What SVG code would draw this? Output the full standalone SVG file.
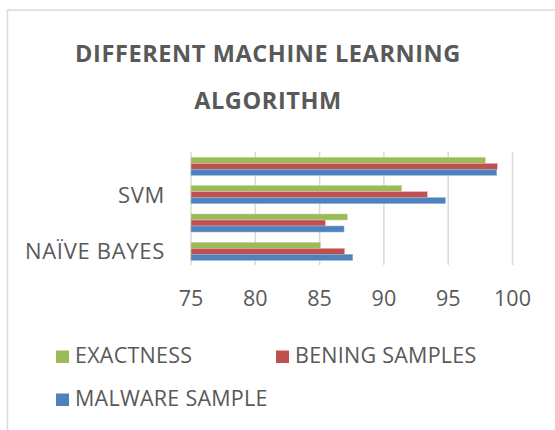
<svg xmlns="http://www.w3.org/2000/svg" width="555" height="430" viewBox="0 0 555 430">
  <style>
    .lbl { font-family: "Open Sans", "Noto Sans", "Liberation Sans", sans-serif; fill: #595959; }
    .title { font-size: 23.5px; font-weight: bold; text-anchor: middle; letter-spacing: 0.6px; }
    .cat { font-size: 22px; text-anchor: end; letter-spacing: 0.7px; }
    .tick { font-size: 21.5px; text-anchor: middle; }
    .leg { font-size: 21.5px; letter-spacing: 0.25px; }
    .grid { stroke: #d9d9d9; stroke-width: 1.5; }
    .g { fill: #9bbb59; stroke: #c3d69b; stroke-width: 0.6; }
    .r { fill: #c0504d; stroke: #e6b9b8; stroke-width: 0.6; }
    .b { fill: #4f81bd; stroke: #95b3d7; stroke-width: 0.6; }
  </style>

  <rect x="0" y="0" width="555" height="430" fill="#ffffff"/>
  <!-- chart frame (runs past the right and bottom edges) -->
  <rect x="7.5" y="10" width="560" height="440" fill="none" stroke="#d9d9d9" stroke-width="1.5"/>

  <!-- title -->
  <g id="title" class="lbl">
    <text class="lbl title" x="268" y="62">DIFFERENT MACHINE LEARNING</text>
    <text class="lbl title" x="268" y="108.5">ALGORITHM</text>
  </g>

  <!-- vertical gridlines at 75..100 -->
  <g id="gridlines">
    <line class="grid" x1="191" y1="152" x2="191" y2="265"/>
    <line class="grid" x1="255.3" y1="152" x2="255.3" y2="265"/>
    <line class="grid" x1="319.6" y1="152" x2="319.6" y2="265"/>
    <line class="grid" x1="383.9" y1="152" x2="383.9" y2="265"/>
    <line class="grid" x1="448.2" y1="152" x2="448.2" y2="265"/>
    <line class="grid" x1="512.5" y1="152" x2="512.5" y2="265"/>
  </g>

  <!-- bars: green = exactness, red = benign samples, blue = malware sample -->
  <g id="bars">
    <rect class="g" x="191" y="157.3" width="294.3" height="6"/>
    <rect class="r" x="191" y="163.3" width="306.3" height="6"/>
    <rect class="b" x="191" y="169.3" width="305.7" height="6"/>

    <rect class="g" x="191" y="185.6" width="210.7" height="6"/>
    <rect class="r" x="191" y="191.6" width="236.3" height="6"/>
    <rect class="b" x="191" y="197.6" width="254.3" height="6"/>

    <rect class="g" x="191" y="214" width="156.3" height="6"/>
    <rect class="r" x="191" y="220" width="134.3" height="6"/>
    <rect class="b" x="191" y="226" width="153" height="6"/>

    <rect class="g" x="191" y="242.3" width="129.3" height="6"/>
    <rect class="r" x="191" y="248.3" width="153.7" height="6"/>
    <rect class="b" x="191" y="254.3" width="161.7" height="6"/>
  </g>

  <!-- category axis labels -->
  <g id="categories">
    <text class="lbl cat" x="165" y="202.5">SVM</text>
    <text class="lbl cat" x="165" y="258.5">NAÏVE BAYES</text>
  </g>

  <!-- value axis labels -->
  <g id="values">
    <text class="lbl tick" x="191" y="305.5">75</text>
    <text class="lbl tick" x="255.3" y="305.5">80</text>
    <text class="lbl tick" x="319.6" y="305.5">85</text>
    <text class="lbl tick" x="383.9" y="305.5">90</text>
    <text class="lbl tick" x="448.2" y="305.5">95</text>
    <text class="lbl tick" x="512.5" y="305.5">100</text>
  </g>

  <!-- legend -->
  <g id="legend-exactness">
    <rect x="56" y="350.5" width="13" height="12.5" fill="#9bbb59"/>
    <text class="lbl leg" x="75" y="362.5">EXACTNESS</text>
  </g>
  <g id="legend-bening">
    <rect x="276" y="350.5" width="13" height="12.5" fill="#c0504d"/>
    <text class="lbl leg" x="295" y="362.5">BENING SAMPLES</text>
  </g>
  <g id="legend-malware">
    <rect x="56" y="393.5" width="13" height="12.5" fill="#4f81bd"/>
    <text class="lbl leg" x="75" y="406">MALWARE SAMPLE</text>
  </g>
</svg>
